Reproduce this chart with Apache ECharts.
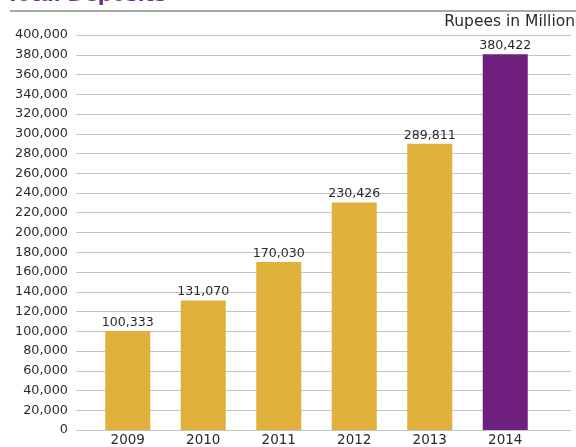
<!DOCTYPE html>
<html>
<head>
<meta charset="utf-8">
<script src="https://cdn.jsdelivr.net/npm/echarts@6/dist/echarts.min.js"></script>
<style>
html,body{margin:0;padding:0;background:#fff;}
#chart{width:576px;height:447px;}
</style>
</head>
<body>
<div id="chart"></div>
<script>
// Total deposits by year, Rupees in Million
var years = ['2009', '2010', '2011', '2012', '2013', '2014'];
var deposits = [100333, 131070, 170030, 230426, 289811, 380422];
var barColors = ['#DFB13B', '#DFB13B', '#DFB13B', '#DFB13B', '#DFB13B', '#6F1F7D'];
var yMin = 0, yMax = 400000, yStep = 20000;

var font = '"DejaVu Sans", "Liberation Sans", sans-serif';
function fmt(v) { return v.toLocaleString('en-US'); }

var chart = echarts.init(document.getElementById('chart'));
chart.setOption({
  animation: false,
  textStyle: { fontFamily: font },
  grid: [
    { left: 76, right: 5, top: 35, bottom: 17 },
    { left: 90, width: 453, top: 35, bottom: 17 }
  ],
  xAxis: [
    { type: 'value', gridIndex: 0, show: false, min: 0, max: 1 },
    {
      type: 'category', gridIndex: 1, data: years,
      axisLine: { show: false }, axisTick: { show: false },
      axisLabel: { color: '#2a2a2a', fontSize: 13.5, margin: 3, fontFamily: font }
    }
  ],
  yAxis: [
    {
      type: 'value', gridIndex: 0, min: yMin, max: yMax, interval: yStep,
      axisLine: { show: false }, axisTick: { show: false },
      axisLabel: { color: '#2a2a2a', fontSize: 12.8, margin: 8, fontFamily: font, formatter: fmt },
      splitLine: { lineStyle: { color: '#c4c4c4', width: 1 } }
    },
    {
      type: 'value', gridIndex: 1, min: yMin, max: yMax, interval: yStep, show: false,
      splitLine: { show: false }
    }
  ],
  series: [{
    type: 'bar',
    xAxisIndex: 1, yAxisIndex: 1,
    barWidth: 45,
    data: deposits.map(function (v, i) {
      return { value: v, itemStyle: { color: barColors[i] } };
    }),
    label: {
      show: true, position: 'top', distance: 2,
      color: '#2a2a2a', fontSize: 12.6, fontFamily: font,
      formatter: function (p) { return fmt(p.value); }
    }
  }],
  graphic: [
    {
      type: 'text', left: 6, top: -14,
      style: { text: 'Total Deposits', fill: '#7B2B8E', font: 'bold 20px ' + font }
    },
    {
      type: 'rect', shape: { x: 10, y: 10, width: 566, height: 2 },
      style: { fill: '#a8a8a8' }
    },
    {
      type: 'text', right: 1, top: 14,
      style: { text: 'Rupees in Million', fill: '#2a2a2a', font: '15.5px ' + font }
    }
  ]
});
</script>
</body>
</html>
